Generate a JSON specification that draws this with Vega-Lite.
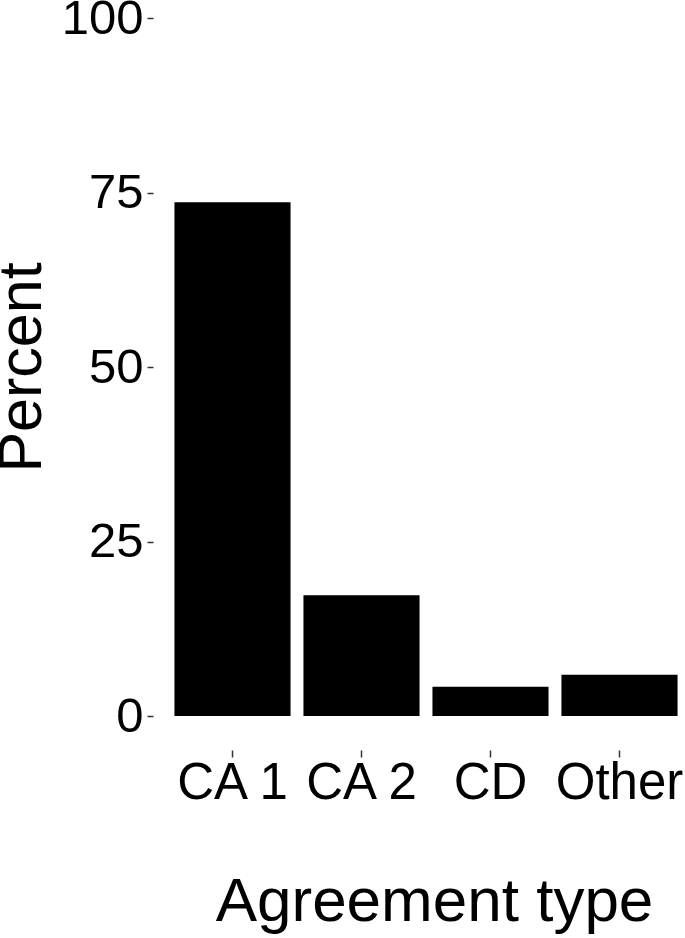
{
  "$schema": "https://vega.github.io/schema/vega-lite/v6.json",
  "autosize": "none",
  "width": 516,
  "height": 698,
  "padding": {"left": 168, "top": 18, "right": 1, "bottom": 222},
  "background": "white",
  "config": {
    "view": {"stroke": null},
    "font": "Liberation Sans"
  },
  "data": {
    "values": [
      {"type": "CA 1", "percent": 73.6},
      {"type": "CA 2", "percent": 17.3},
      {"type": "CD", "percent": 4.2},
      {"type": "Other", "percent": 5.9}
    ]
  },
  "mark": {"type": "bar", "color": "black"},
  "encoding": {
    "x": {
      "field": "type",
      "type": "nominal",
      "sort": null,
      "scale": {"paddingInner": 0.1, "paddingOuter": 0.05},
      "axis": {
        "title": "Agreement type",
        "titleFontSize": 62,
        "titleFontWeight": "normal",
        "titleColor": "black",
        "titlePadding": 63,
        "titleX": 266,
        "labelFontSize": 51,
        "labelColor": "black",
        "labelAngle": 0,
        "labelPadding": 1,
        "domain": false,
        "offset": 34,
        "tickSize": 7,
        "tickColor": "#333333",
        "tickWidth": 1.5
      }
    },
    "y": {
      "field": "percent",
      "type": "quantitative",
      "scale": {"domain": [0, 100], "nice": false, "zero": true},
      "axis": {
        "title": "Percent",
        "titleFontSize": 61,
        "titleFontWeight": "normal",
        "titleColor": "black",
        "titlePadding": 8,
        "values": [0, 25, 50, 75, 100],
        "labelFontSize": 49,
        "labelColor": "black",
        "labelPadding": 4,
        "domain": false,
        "grid": false,
        "offset": 15,
        "tickSize": 6,
        "tickColor": "#333333",
        "tickWidth": 1.5
      }
    }
  }
}
